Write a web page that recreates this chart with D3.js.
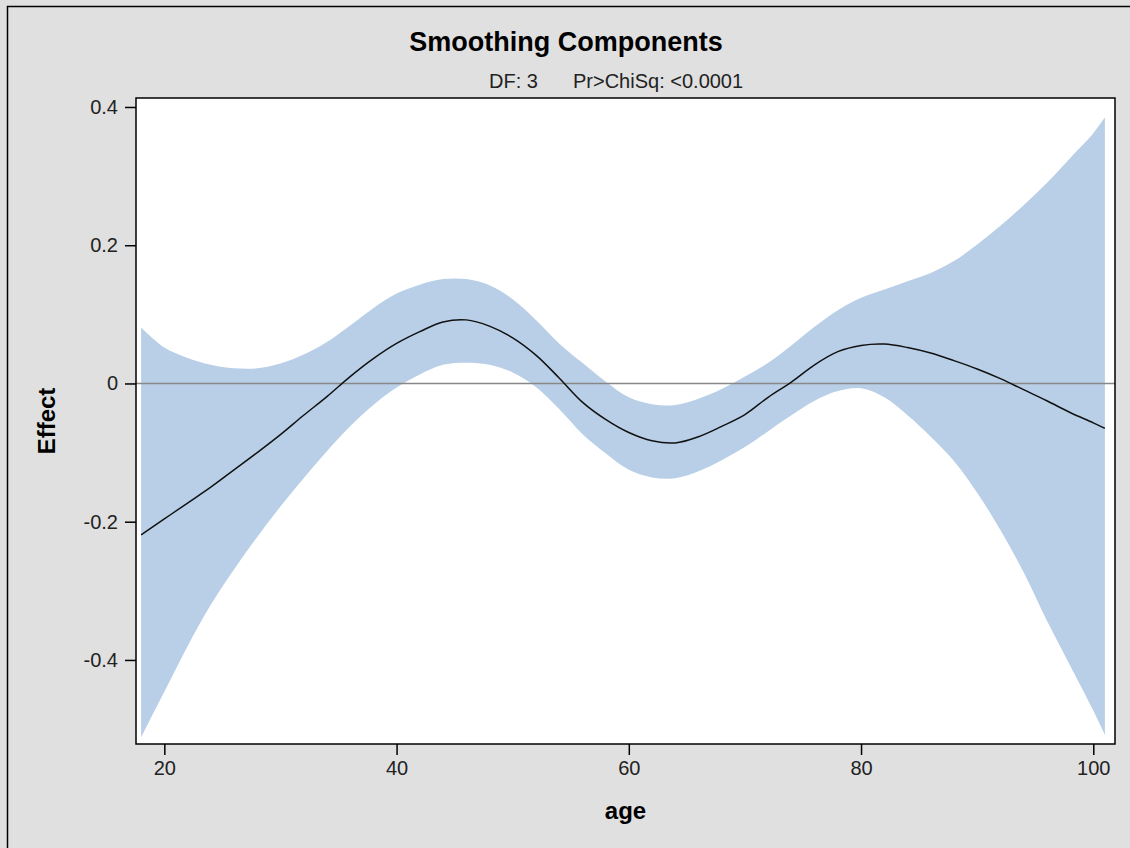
<!DOCTYPE html>
<html>
<head>
    <meta charset="utf-8">
    <title>Smoothing Components</title>
    <style>
        body {
            margin: 0;
            background: #e0e0e0;
            font-family: "Liberation Sans", Arial, sans-serif;
        }
    </style>
</head>
<body>
    <div id="chart"></div>

    <script src="https://d3js.org/d3.v7.min.js"></script>
    <script>
    // Values
    const ages = [18, 20, 22, 24, 26, 28, 30, 32, 34, 36, 38, 40, 42, 44, 46, 48, 50, 52, 54, 56, 58,
                  60, 62, 64, 66, 68, 70, 72, 74, 76, 78, 80, 82, 84, 86, 88, 90, 92, 94, 96, 98, 100, 101];
    const effect = [-0.219, -0.196, -0.173, -0.150, -0.125, -0.100, -0.074, -0.046, -0.019, 0.010, 0.036,
                    0.058, 0.075, 0.089, 0.092, 0.083, 0.066, 0.041, 0.008, -0.027, -0.052,
                    -0.071, -0.083, -0.086, -0.077, -0.062, -0.045, -0.020, 0.002, 0.027, 0.046,
                    0.055, 0.057, 0.052, 0.044, 0.033, 0.021, 0.007, -0.009, -0.025, -0.042, -0.057, -0.065];
    const upper = [0.081, 0.052, 0.037, 0.027, 0.022, 0.022, 0.029, 0.042, 0.060, 0.084, 0.109,
                   0.130, 0.143, 0.151, 0.151, 0.142, 0.122, 0.092, 0.058, 0.030, 0.003,
                   -0.020, -0.030, -0.031, -0.022, -0.008, 0.010, 0.030, 0.055, 0.082, 0.106,
                   0.124, 0.136, 0.148, 0.160, 0.177, 0.201, 0.228, 0.258, 0.290, 0.326, 0.362, 0.385];
    const lower = [-0.512, -0.446, -0.380, -0.320, -0.269, -0.222, -0.178, -0.137, -0.098, -0.062, -0.031,
                   -0.006, 0.013, 0.027, 0.030, 0.027, 0.016, -0.005, -0.037, -0.073, -0.101,
                   -0.125, -0.136, -0.137, -0.127, -0.111, -0.092, -0.069, -0.046, -0.025, -0.011,
                   -0.007, -0.020, -0.046, -0.077, -0.112, -0.158, -0.212, -0.273, -0.343, -0.408, -0.473, -0.508];
    const xTicks = [20, 40, 60, 80, 100];
    const yTicks = [-0.4, -0.2, 0, 0.2, 0.4];

    const data = ages.map((a, i) => ({age: a, est: effect[i], lo: lower[i], hi: upper[i]}));

    const W = 1130, H = 848;
    const plot = {left: 136, top: 98, right: 1115, bottom: 744};

    const svg = d3.select("#chart").append("svg")
        .attr("width", W)
        .attr("height", H);

    // outer frame
    svg.append("rect")
        .attr("x", 7.5).attr("y", 6.5)
        .attr("width", W + 20).attr("height", H + 20)
        .attr("fill", "#e0e0e0")
        .attr("stroke", "#000")
        .attr("stroke-width", 1.5);

    const x = d3.scaleLinear()
        .domain([17.56, 101.87])
        .range([plot.left, plot.right]);

    const y = d3.scaleLinear()
        .domain([-0.5216, 0.413])
        .range([plot.bottom, plot.top]);

    // plot background
    svg.append("rect")
        .attr("x", plot.left).attr("y", plot.top)
        .attr("width", plot.right - plot.left)
        .attr("height", plot.bottom - plot.top)
        .attr("fill", "#fff");

    // confidence band
    const band = d3.area()
        .x(d => x(d.age))
        .y0(d => y(d.lo))
        .y1(d => y(d.hi))
        .curve(d3.curveCatmullRom.alpha(0.5));

    svg.append("path")
        .datum(data)
        .attr("d", band)
        .attr("fill", "#b9cfe7");

    // zero reference line
    svg.append("line")
        .attr("x1", plot.left).attr("x2", plot.right)
        .attr("y1", y(0)).attr("y2", y(0))
        .attr("stroke", "#888")
        .attr("stroke-width", 1.5);

    // fitted curve
    const line = d3.line()
        .x(d => x(d.age))
        .y(d => y(d.est))
        .curve(d3.curveCatmullRom.alpha(0.5));

    svg.append("path")
        .datum(data)
        .attr("d", line)
        .attr("fill", "none")
        .attr("stroke", "#111")
        .attr("stroke-width", 1.5);

    // axes
    const xAxis = svg.append("g")
        .attr("transform", `translate(0,${plot.bottom})`)
        .call(d3.axisBottom(x).tickValues(xTicks).tickSize(11).tickPadding(6).tickFormat(d3.format("d")));

    const yAxis = svg.append("g")
        .attr("transform", `translate(${plot.left},0)`)
        .call(d3.axisLeft(y).tickValues(yTicks).tickSize(11).tickPadding(7)
            .tickFormat(d => d === 0 ? "0" : d.toFixed(1)));

    [xAxis, yAxis].forEach(g => {
        g.select(".domain").remove();
        g.selectAll("line").attr("stroke", "#000").attr("stroke-width", 1.5);
        g.selectAll("text")
            .attr("fill", "#222")
            .style("font-family", '"Liberation Sans", Arial, sans-serif')
            .style("font-size", "20px");
    });

    // plot frame
    svg.append("rect")
        .attr("x", plot.left).attr("y", plot.top)
        .attr("width", plot.right - plot.left)
        .attr("height", plot.bottom - plot.top)
        .attr("fill", "none")
        .attr("stroke", "#000")
        .attr("stroke-width", 1.5);

    // titles
    svg.append("text")
        .attr("x", 566)
        .attr("y", 51)
        .attr("text-anchor", "middle")
        .style("font-size", "27px")
        .style("font-weight", "bold")
        .text("Smoothing Components");

    svg.append("text")
        .attr("x", 489)
        .attr("y", 88)
        .style("font-size", "20px")
        .attr("fill", "#222")
        .text("DF: 3");

    svg.append("text")
        .attr("x", 573)
        .attr("y", 88)
        .style("font-size", "20px")
        .attr("fill", "#222")
        .text("Pr>ChiSq: <0.0001");

    // axis labels
    svg.append("text")
        .attr("x", (plot.left + plot.right) / 2)
        .attr("y", 819)
        .attr("text-anchor", "middle")
        .style("font-size", "24px")
        .style("font-weight", "bold")
        .text("age");

    svg.append("text")
        .attr("transform", `translate(55,${(plot.top + plot.bottom) / 2}) rotate(-90)`)
        .attr("text-anchor", "middle")
        .style("font-size", "24px")
        .style("font-weight", "bold")
        .text("Effect");
    </script>
</body>
</html>
